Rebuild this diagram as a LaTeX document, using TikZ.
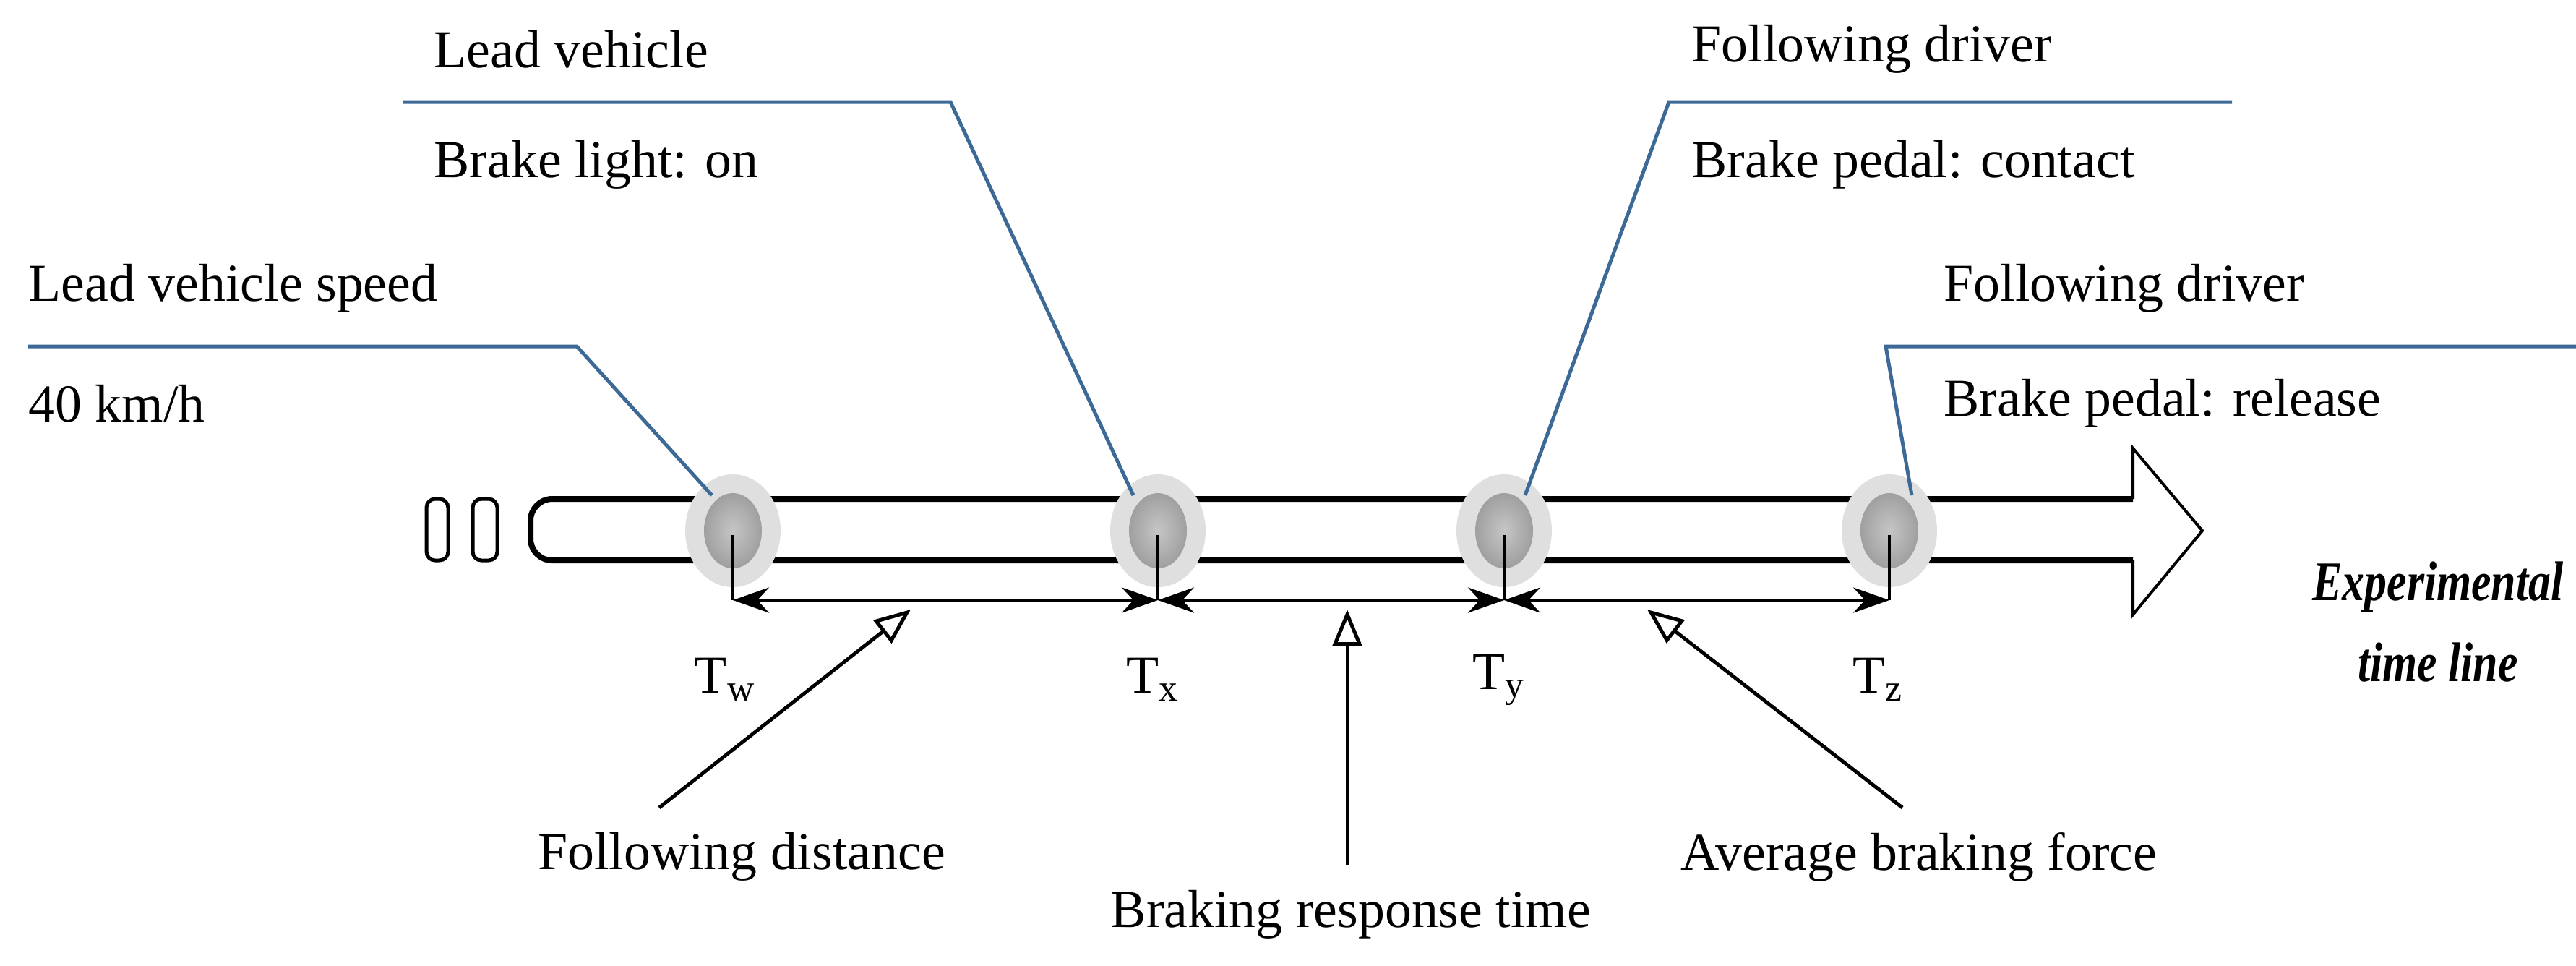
\documentclass[tikz,border=0pt]{standalone}
\usepackage{fontspec}
\setmainfont{Liberation Serif}
\usetikzlibrary{arrows.meta}
\definecolor{leadblue}{RGB}{60,105,150}
\tikzset{
  txt/.style={inner sep=0pt, font=\fontsize{21}{25}\selectfont},
  lead/.style={leadblue, line width=.5mm},
  span/.style={line width=.45mm, {Stealth[length=5mm,width=3.5mm]}-{Stealth[length=5mm,width=3.5mm]}},
  point/.style={line width=.5mm, -{Triangle[open,length=5mm,width=4mm]}}
}
\begin{document}
\begin{tikzpicture}[x=1cm,y=-1cm]
        \useasboundingbox (0,0) rectangle (35.64,13.35);
        % time line band
        \draw[line width=.8mm, rounded corners=3mm] (29.51,6.90) -- (7.34,6.90) -- (7.34,7.75) -- (29.51,7.75);
        \draw[line width=.4mm] (29.51,6.90) -- (29.51,6.20) -- (30.47,7.34) -- (29.51,8.50) -- (29.51,7.75);
        \draw[line width=.5mm, rounded corners=1.2mm] (5.90,6.90) rectangle (6.20,7.75);
        \draw[line width=.5mm, rounded corners=1.2mm] (6.54,6.90) rectangle (6.88,7.75);
        % time points
        \foreach \n/\x in {tw/10.14, tx/16.02, ty/20.81, tz/26.14} {
          \fill[gray!25] (\x,7.34) ellipse (0.66 and 0.78);
          \shade[inner color=gray!45, outer color=gray!75] (\x,7.34) ellipse (0.40 and 0.52);
          \coordinate (\n) at (\x,7.40);
          \coordinate (\n b) at (\x,8.30);
          \draw[line width=.4mm] (\n) -- (\n b);
        }
        \draw[span] (twb) -- (txb);
        \draw[span] (txb) -- (tyb);
        \draw[span] (tyb) -- (tzb);
        \node[txt] (lw) at (10.03,9.40) {T\textsubscript{w}};
        \node[txt] (lx) at (15.95,9.40) {T\textsubscript{x}};
        \node[txt] (ly) at (20.74,9.40) {T\textsubscript{y}};
        \node[txt] (lz) at (25.98,9.40) {T\textsubscript{z}};
        % event labels
        \node[txt, anchor=west] (lvs) at (0.39,3.99) {Lead vehicle speed};
        \node[txt, anchor=west] (kmh) at (0.39,5.58) {40 km/h};
        \node[txt, anchor=west] (lv) at (6.00,0.68) {Lead vehicle};
        \node[txt, anchor=west] (bl) at (6.00,2.28) {Brake light: on};
        \node[txt, anchor=west] (fd1) at (23.40,0.68) {Following driver};
        \node[txt, anchor=west] (bpc) at (23.40,2.28) {Brake pedal: contact};
        \node[txt, anchor=west] (fd2) at (26.89,3.99) {Following driver};
        \node[txt, anchor=west] (bpr) at (26.89,5.58) {Brake pedal: release};
        \node[txt, font=\fontsize{22}{26}\selectfont\bfseries\itshape, align=center] (etl) at (33.73,8.60)
          {\scalebox{0.8}[1]{Experimental}\\[2mm]\scalebox{0.8}[1]{time line}};
        \coordinate (k1) at (7.98,4.79);
        \coordinate (k2) at (13.15,1.41);
        \coordinate (k3) at (23.09,1.41);
        \coordinate (k4) at (26.09,4.79);
        \draw[lead] (0.39,4.79) -- (k1) -- (9.85,6.85);
        \draw[lead] (5.58,1.41) -- (k2) -- (15.68,6.85);
        \draw[lead] (30.88,1.41) -- (k3) -- (21.10,6.85);
        \draw[lead] (35.64,4.79) -- (k4) -- (26.45,6.85);
        % measures
        \node[txt] (fdist) at (10.26,11.85) {Following distance};
        \node[txt] (brt) at (18.69,12.65) {Braking response time};
        \node[txt] (abf) at (26.55,11.85) {Average braking force};
        \draw[point] (9.12,11.17) -- (12.60,8.43);
        \draw[point] (18.64,11.96) -- (18.64,8.43);
        \draw[point] (26.32,11.17) -- (22.79,8.43);
\end{tikzpicture}
\end{document}
